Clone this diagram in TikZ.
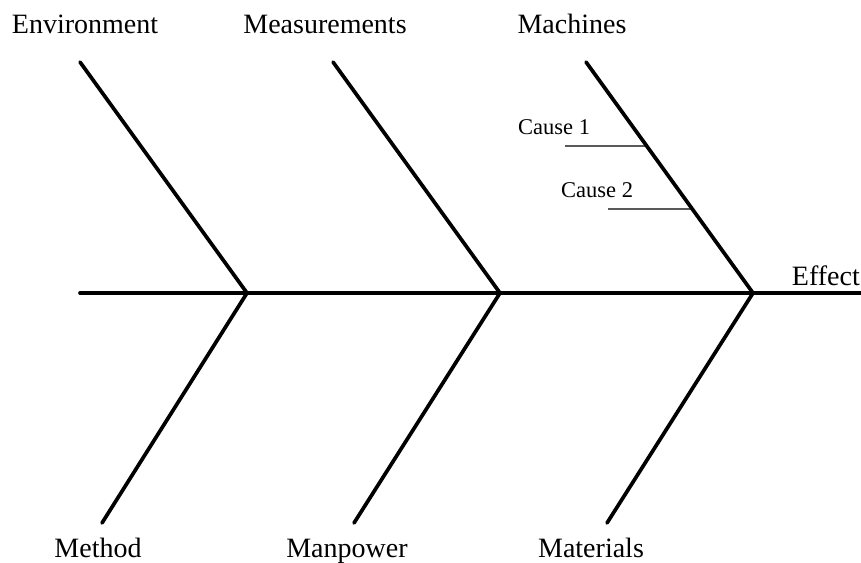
\documentclass[tikz,border=0pt]{standalone}
\usepackage{fontspec}
\setmainfont{Liberation Serif}
\usetikzlibrary{calc}
\begin{document}
\begin{tikzpicture}[x=1pt,y=-1pt,
  bone/.style={line width=3.7pt,line cap=round,line join=round},
  twig/.style={line width=1.3pt},
  cat/.style={font=\fontsize{28}{32}\selectfont,anchor=base,inner sep=0pt},
  cause/.style={font=\fontsize{22.5}{26}\selectfont,anchor=base west,inner sep=0pt}]
\useasboundingbox (0,0) rectangle (861,562);
% spine joints and ends
\coordinate (tail) at (80,293);
\coordinate (j1) at (247,293);
\coordinate (j2) at (500,293);
\coordinate (j3) at (753,293);
\coordinate (head) at (861,293);
% bone ends
\coordinate (u1) at (80,62);
\coordinate (u2) at (333,62);
\coordinate (u3) at (586,62);
\coordinate (l1) at (102,523);
\coordinate (l2) at (354,523);
\coordinate (l3) at (607,523);
% spine and bones
\draw[bone] (tail) -- (j1) -- (j2) -- (j3) -- (head);
\draw[bone] (u1) -- (j1) -- (l1);
\draw[bone] (u2) -- (j2) -- (l2);
\draw[bone] (u3) -- (j3) -- (l3);
% sub-causes on the machines bone
\coordinate (c1a) at (565,146);
\coordinate (c1b) at ($(u3)!{(146-62)/231}!(j3)$);
\coordinate (c2a) at (608,209);
\coordinate (c2b) at ($(u3)!{(209-62)/231}!(j3)$);
\draw[twig] (c1a) -- (c1b);
\draw[twig] (c2a) -- (c2b);
\node[cause] (cause1) at (518,134) {Cause 1};
\node[cause] (cause2) at (561,197) {Cause 2};
% category labels
\node[cat] (env) at (85,33) {Environment};
\node[cat] (meas) at (325,33) {Measurements};
\node[cat] (mach) at (572,33) {Machines};
\node[cat] (meth) at (98,557) {Method};
\node[cat] (manp) at (347,557) {Manpower};
\node[cat] (mat) at (591,557) {Materials};
\node[cat,anchor=base east] (effect) at (860,285) {Effect};
\end{tikzpicture}
\end{document}
